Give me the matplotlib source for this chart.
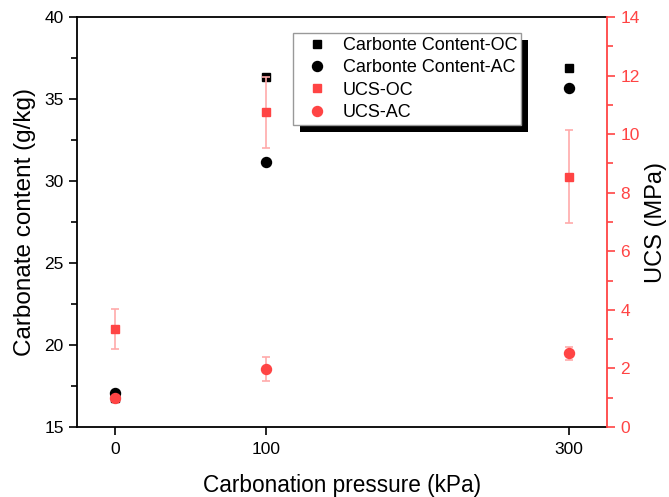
import matplotlib
matplotlib.use("Agg")
import matplotlib.pyplot as plt
from matplotlib.ticker import MultipleLocator, AutoMinorLocator
from matplotlib.patches import Rectangle

plt.rcParams['font.family'] = ['Liberation Sans', 'DejaVu Sans']

pressure = [0, 100, 300]
carb_oc = [16.8, 36.36, 36.87]
carb_ac = [17.05, 31.18, 35.65]
ucs_oc = [3.34, 10.74, 8.55]
ucs_oc_err = [0.68, 1.21, 1.6]
ucs_ac = [0.98, 1.98, 2.52]
ucs_ac_err = [0.08, 0.42, 0.22]
xticks = [0, 100, 300]
labels = ['Carbonte Content-OC', 'Carbonte Content-AC', 'UCS-OC', 'UCS-AC']

RED = '#FF4444'
ERR = '#FFAAAA'

fig = plt.figure(figsize=(6.69, 4.97), dpi=100)
ax = fig.add_axes([0.1151, 0.1408, 0.7922, 0.825])
ax2 = ax.twinx()

h1, = ax.plot(pressure, carb_oc, 's', color='black', ms=6, ls='none', zorder=3)
h2, = ax.plot(pressure, carb_ac, 'o', color='black', ms=7.2, ls='none', zorder=3)

e1 = ax2.errorbar(pressure, ucs_oc, yerr=ucs_oc_err, fmt='s', color=RED, ms=6,
                  ecolor=ERR, elinewidth=1.2, capsize=3, capthick=1.2, zorder=3)
e2 = ax2.errorbar(pressure, ucs_ac, yerr=ucs_ac_err, fmt='o', color=RED, ms=7.2,
                  ecolor=ERR, elinewidth=1.2, capsize=3, capthick=1.2, zorder=3)

ax.set_xlim(-25, 325)
ax.set_ylim(15, 40)
ax2.set_ylim(0, 14)
ax.set_xticks(xticks)
ax.set_xticklabels([str(v) for v in xticks])
ax.yaxis.set_major_locator(MultipleLocator(5))
ax.yaxis.set_minor_locator(AutoMinorLocator(2))
ax2.yaxis.set_major_locator(MultipleLocator(2))
ax2.yaxis.set_minor_locator(AutoMinorLocator(2))

for a in (ax, ax2):
    for s in a.spines.values():
        s.set_linewidth(1.3)
ax2.spines['right'].set_color(RED)
ax2.spines['left'].set_visible(False)
ax2.spines['top'].set_visible(False)
ax2.spines['bottom'].set_visible(False)
ax.spines['right'].set_visible(False)

ax.tick_params(axis='both', which='major', direction='out', length=6, width=1.2,
               labelsize=12.5, top=False, right=False)
ax.tick_params(axis='x', which='major', pad=5)
ax.tick_params(axis='y', which='minor', direction='out', length=4, width=1.2)
ax2.tick_params(axis='y', which='major', direction='out', length=6, width=1.2,
                labelsize=12.5, colors=RED)
ax2.tick_params(axis='y', which='minor', direction='out', length=4, width=1.2,
                colors=RED)

ax.set_xlabel('Carbonation pressure (kPa)', fontsize=16.3, labelpad=12)
ax.set_ylabel('Carbonate content (g/kg)', fontsize=17.5, labelpad=6)
ax2.set_ylabel('UCS (MPa)', fontsize=17, color='black', labelpad=4)

leg = ax2.legend([h1, h2, e1[0], e2[0]], labels,
                 loc='upper left', bbox_to_anchor=(0.4075, 0.961), borderaxespad=0,
                 fontsize=13, frameon=True, fancybox=False, shadow=False,
                 edgecolor='#999999', framealpha=1, handletextpad=0.33,
                 labelspacing=0.3, borderpad=0.22, handlelength=2.22)
leg.get_frame().set_linewidth(1.0)
leg.set_zorder(6)

fig.canvas.draw()
bb = leg.get_window_extent()
shadow = Rectangle((bb.x0 + 7, bb.y0 - 7), bb.width, bb.height, transform=None,
                   facecolor='black', edgecolor='none', zorder=5.5, clip_on=False)
ax2.add_artist(shadow)

fig.savefig('out.png', dpi=100)
